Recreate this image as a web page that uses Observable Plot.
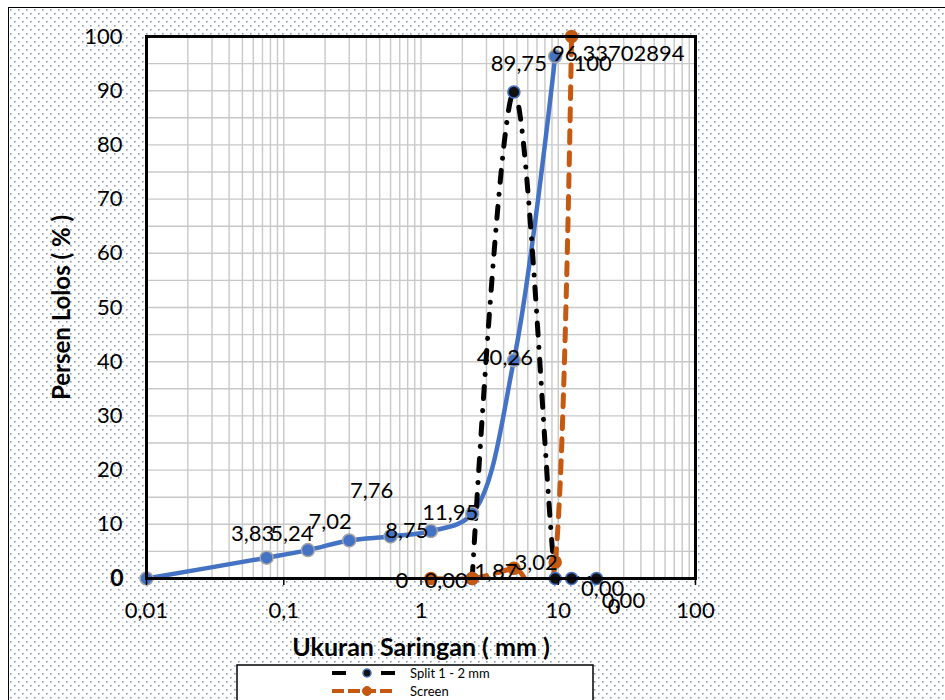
<!DOCTYPE html>
<html>
<head>
<meta charset="utf-8">
<script src="https://cdn.jsdelivr.net/npm/d3@7"></script>
<script src="https://cdn.jsdelivr.net/npm/@observablehq/plot@0.6"></script>
<style>
  body { margin: 0; background: #fff; }
  #chart { position: relative; width: 945px; height: 700px; overflow: hidden; }
  #area {
    position: absolute; left: 8px; top: 7px; width: 960px; height: 720px;
    border: 1.5px solid #000; background-color: #fff;
    background-image: url("data:image/svg+xml,%3Csvg xmlns='http://www.w3.org/2000/svg' width='8' height='8'%3E%3Crect x='1' y='1' width='1.6' height='1.6' fill='%23889ab9'/%3E%3Crect x='5' y='5' width='1.6' height='1.6' fill='%23889ab9'/%3E%3C/svg%3E");
  }
  #chart svg { position: absolute; left: 0; top: 0; }
</style>
</head>
<body>
<div id="chart"><div id="area"></div></div>
<script>
// Sieve analysis: cumulative percent passing vs. sieve opening (mm)

// Combined gradation (blue curve)
const gradSize = [0.01, 0.075, 0.15, 0.3, 0.6, 1.18, 2.36, 4.75, 9.5];
const gradPass = [0, 3.83, 5.24, 7.02, 7.76, 8.75, 11.95, 40.26, 96.33702894];
const gradDecimals = [null, 2, 2, 2, 2, 2, 2, 2, 8];

// Split 1 - 2 mm
const splitSize = [2.36, 4.75, 9.5, 12.5, 19];
const splitPass = [0, 89.75, 0, 0, 0];
const splitDecimals = [null, 2, 0, 2, 2];

// Screen
const screenSize = [1.18, 2.36, 4.75, 9.5, 12.5];
const screenPass = [0, 0, 1.87, 3.02, 100];
const screenDecimals = [0, 2, 2, 2, 0];

const xTicks = [0.01, 0.1, 1, 10, 100];
const yTicks = [10, 20, 30, 40, 50, 60, 70, 80, 90, 100];

const xTitle = "Ukuran Saringan ( mm )";
const yTitle = "Persen Lolos ( % )";
const legendNames = ["Split 1 - 2 mm", "Screen"];

// --- tables built from the arrays above
const toRows = (sizes, pass, dec) =>
  sizes.map((s, i) => ({ size: s, pass: pass[i], dec: dec[i] }));
const grad = toRows(gradSize, gradPass, gradDecimals);
const split = toRows(splitSize, splitPass, splitDecimals);
const screen = toRows(screenSize, screenPass, screenDecimals);

const comma = (v) => String(v).replace(".", ",");
const fmt = (d) => d.pass.toFixed(d.dec).replace(".", ",");

// minor log gridlines (1..9 within each decade)
const minorX = [];
for (let e = -2; e < 2; e++) for (let m = 1; m <= 9; m++) minorX.push(m * 10 ** e);
minorX.push(100);
const gridY = d3.range(5, 100, 5);

// label offsets (px) per point, in drawing order
const gradOffsets = [null, [-14, -24], [-16, -16], [-19, -18], [-19, -45], [-24, 0], [-22, -1], [-9, -2], [63, -2]];
const splitOffsets = [null, [5, -28], [59, 28], [31, 10], [27, 22]];
const screenOffsets = [[-29, 2], [-26, 2], [-18, 4], [-19, 1], [21, 27]];

const BLUE = "#4472C4", ORANGE = "#C65911";
const FONT = "Lato, 'Open Sans', sans-serif";
const SMOOTH = { curve: "cardinal", tension: 0 };

function labelMarks(rows, offsets) {
  return rows.map((d, i) => offsets[i] == null ? null :
    Plot.text([d], {
      x: "size", y: "pass", text: fmt,
      dx: offsets[i][0], dy: offsets[i][1],
      fontSize: 22, fill: "#000", textAnchor: "middle"
    })).filter(Boolean);
}

const chart = Plot.plot({
  width: 945,
  height: 700,
  marginLeft: 146,
  marginRight: 250,
  marginTop: 36,
  marginBottom: 122,
  style: { background: "transparent", fontFamily: FONT, overflow: "visible" },
  x: { type: "log", domain: [0.01, 100] },
  y: { domain: [0, 100] },
  marks: [
    Plot.frame({ fill: "white" }),
    Plot.ruleX(minorX, { stroke: "#c8c8c8", strokeWidth: 1.4 }),
    Plot.ruleY(gridY, { stroke: "#c8c8c8", strokeWidth: 1.4 }),

    Plot.line(grad, { x: "size", y: "pass", stroke: BLUE, strokeWidth: 4.5, curve: "catmull-rom", clip: true }),
    Plot.line(split, {
      x: "size", y: "pass", stroke: "#000", strokeWidth: 5, ...SMOOTH, clip: true,
      strokeDasharray: "12 12 0.1 12", strokeLinecap: "round"
    }),
    Plot.line(screen, {
      x: "size", y: "pass", stroke: ORANGE, strokeWidth: 5, ...SMOOTH, clip: true,
      strokeDasharray: "12 10", strokeLinecap: "round"
    }),

    Plot.dot(grad, { x: "size", y: "pass", r: 6.5, fill: BLUE, stroke: "#a5a5a5", strokeWidth: 1.5 }),
    Plot.dot(split, { x: "size", y: "pass", r: 6, fill: "#111", stroke: BLUE, strokeWidth: 1.6 }),
    Plot.dot(screen, { x: "size", y: "pass", r: 6, fill: ORANGE, stroke: ORANGE, strokeWidth: 1.5 }),

    Plot.frame({ stroke: "#000", strokeWidth: 3 }),

    Plot.axisX({
      ticks: xTicks, tickFormat: comma, tickSize: 7, tickPadding: 17,
      fontSize: 22, stroke: "#000", strokeWidth: 1.5, label: null
    }),
    Plot.axisY({
      ticks: yTicks, tickFormat: (d) => String(d), tickSize: 0, tickPadding: 24,
      fontSize: 22, label: null
    }),
    Plot.text([0], {
      x: () => 0.01, y: (d) => d, text: () => "0", frameAnchor: "left",
      dx: -23, textAnchor: "end", fontSize: 23, fontWeight: "bold"
    }),

    Plot.text([yTitle], {
      frameAnchor: "left", dx: -84, rotate: -90, textAnchor: "middle",
      fontSize: 24, fontWeight: "bold"
    }),
    Plot.text([xTitle], {
      frameAnchor: "bottom", dy: 77, textAnchor: "middle",
      fontSize: 25, fontWeight: "bold"
    }),

    ...labelMarks(grad, gradOffsets),
    ...labelMarks(split, splitOffsets),
    ...labelMarks(screen, screenOffsets)
  ]
});

document.getElementById("chart").appendChild(chart);

// legend box below the x-axis title
const svg = d3.select(chart);
const lg = svg.append("g").attr("font-family", FONT).attr("text-anchor", "start");
lg.append("rect").attr("x", 237).attr("y", 665).attr("width", 356).attr("height", 45)
  .attr("fill", "#fff").attr("stroke", "#000").attr("stroke-width", 1.5);
// row 1: Split 1 - 2 mm
[[332, 346], [381, 395]].forEach(([a, b]) =>
  lg.append("line").attr("x1", a).attr("x2", b).attr("y1", 673).attr("y2", 673)
    .attr("stroke", "#000").attr("stroke-width", 4));
lg.append("circle").attr("cx", 367).attr("cy", 673).attr("r", 4)
  .attr("fill", "#111").attr("stroke", BLUE).attr("stroke-width", 1.5);
lg.append("text").attr("x", 410).attr("y", 673).attr("dy", "0.35em")
  .attr("font-size", 13).text(legendNames[0]);
// row 2: Screen
lg.append("line").attr("x1", 332).attr("x2", 395).attr("y1", 691).attr("y2", 691)
  .attr("stroke", ORANGE).attr("stroke-width", 4).attr("stroke-dasharray", "12 4");
lg.append("circle").attr("cx", 367).attr("cy", 691).attr("r", 4.5)
  .attr("fill", ORANGE).attr("stroke", ORANGE);
lg.append("text").attr("x", 410).attr("y", 691).attr("dy", "0.35em")
  .attr("font-size", 13).text(legendNames[1]);
</script>
</body>
</html>
